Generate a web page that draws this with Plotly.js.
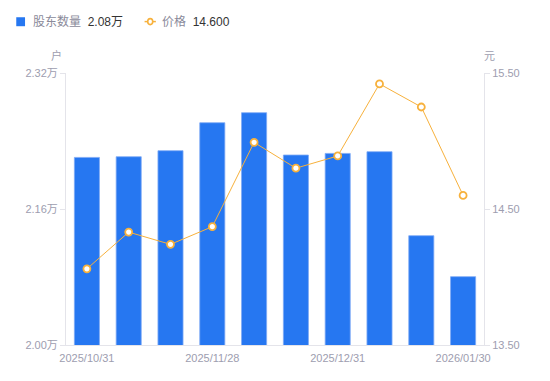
<!DOCTYPE html>
<html><head><meta charset="utf-8">
<script src="https://cdn.plot.ly/plotly-3.0.1.min.js"></script>
<style>html,body{margin:0;padding:0;background:#fff}#c{width:550px;height:381px}</style>
</head><body><div id="c"></div>
<script>
const dates = ['2025/10/31','2025/11/10','2025/11/20','2025/11/28','2025/12/10','2025/12/19','2025/12/31','2026/01/09','2026/01/20','2026/01/30'];
const holders = [22207, 22215, 22286, 22615, 22733, 22235, 22254, 22274, 21286, 20804];
const prices = [14.06, 14.33, 14.24, 14.37, 14.99, 14.80, 14.89, 15.42, 15.25, 14.60];
const xTicks = ['2025/10/31','2025/11/28','2025/12/31','2026/01/30'];
const leftTicks = [20000, 21600, 23200];
const leftTickText = ['2.00万', '2.16万', '2.32万'];
const rightTicks = [13.5, 14.5, 15.5];
const rightTickText = ['13.50', '14.50', '15.50'];

const FONT = 'Liberation Sans, Arial, Noto Sans CJK SC, sans-serif';
const gray = '#9d9daf';
const blue = '#2677f1';
const orange = '#f7b13c';

const lastH = (holders[holders.length-1]/10000).toFixed(2) + '万';
const lastP = prices[prices.length-1].toFixed(3);

const traces = [
  {type:'bar', x:dates, y:holders, yaxis:'y', marker:{color:blue, line:{color:'#7eaaf5', width:0.8}}, showlegend:false, hoverinfo:'skip'},
  {type:'scatter', mode:'lines+markers', x:dates, y:prices, yaxis:'y2', cliponaxis:false,
   line:{color:orange, width:1}, marker:{symbol:'circle', size:7, color:'#ffffff', line:{color:orange, width:1.8}},
   showlegend:false, hoverinfo:'skip'}
];

const layout = {
  width:550, height:381,
  margin:{l:66, r:66, t:73, b:36},
  paper_bgcolor:'#fff', plot_bgcolor:'#fff',
  font:{family:FONT, size:11, color:gray},
  bargap:0.4,
  xaxis:{type:'category', range:[-0.5, dates.length-0.5], autorange:false, tickmode:'array', tickvals:xTicks, ticktext:xTicks,
    showline:true, linecolor:'#e4e4ea', linewidth:1, ticks:'', showgrid:false, zeroline:false,
    tickfont:{size:11, color:gray, family:FONT}, ticklabelstandoff:3},
  yaxis:{range:[20000,23200], tickmode:'array', tickvals:leftTicks, ticktext:leftTickText,
    showline:true, linecolor:'#e4e4ea', linewidth:1, ticks:'outside', ticklen:5, tickcolor:'#e4e4ea',
    showgrid:false, zeroline:false, tickfont:{size:11, color:gray, family:FONT}},
  yaxis2:{range:[13.5,15.5], overlaying:'y', side:'right', tickmode:'array', tickvals:rightTicks, ticktext:rightTickText,
    showline:true, linecolor:'#e4e4ea', linewidth:1, ticks:'outside', ticklen:5, tickcolor:'#e4e4ea',
    showgrid:false, zeroline:false, tickfont:{size:11, color:gray, family:FONT}},
  shapes:[
    {type:'rect', xref:'paper', yref:'paper', x0:-0.119, x1:-0.098, y0:1.172, y1:1.205, fillcolor:blue, line:{width:0}},
    {type:'line', xref:'paper', yref:'paper', x0:0.188, x1:0.215, y0:1.189, y1:1.189, line:{color:orange, width:1.5}},
    {type:'circle', xref:'paper', yref:'paper', x0:0.1955, x1:0.2075, y0:1.178, y1:1.200, fillcolor:'#fff', line:{color:orange, width:1.6}}
  ],
  annotations:[
    {xref:'paper', yref:'paper', x:-0.084, y:1.189, xanchor:'left', yanchor:'middle', showarrow:false,
     text:'股东数量  <span style="color:#333333">'+lastH+'</span>', font:{size:12, color:'#8a8a9a', family:FONT}},
    {xref:'paper', yref:'paper', x:0.226, y:1.189, xanchor:'left', yanchor:'middle', showarrow:false,
     text:'价格  <span style="color:#333333">'+lastP+'</span>', font:{size:12, color:'#8a8a9a', family:FONT}},
    {xref:'paper', yref:'paper', x:-0.022, y:1.063, xanchor:'center', yanchor:'middle', showarrow:false,
     text:'户', font:{size:11, color:gray, family:FONT}},
    {xref:'paper', yref:'paper', x:1.014, y:1.063, xanchor:'center', yanchor:'middle', showarrow:false,
     text:'元', font:{size:11, color:gray, family:FONT}}
  ]
};

Plotly.newPlot('c', traces, layout, {displayModeBar:false, staticPlot:true});
</script></body></html>
